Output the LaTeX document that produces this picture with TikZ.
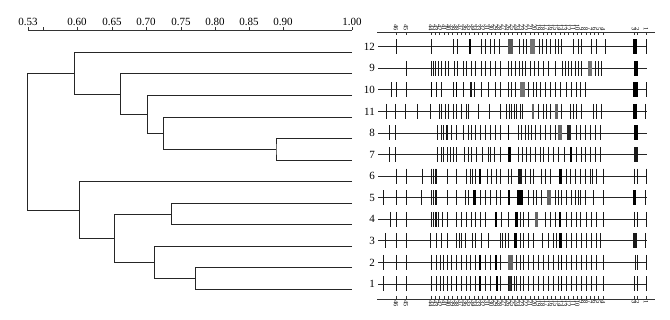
\documentclass[tikz,border=0pt]{standalone}
\usepackage{fontspec}
\setmainfont{Liberation Serif}
\usepackage{tikz}
\usetikzlibrary{positioning}
\newcommand{\gellane}[3]{%
  \draw[laneline] (378,#1) -- (647,#1);
  \foreach \bx in {#2} \draw[band] (\bx,#1-7.5) -- (\bx,#1+7.5);
  \foreach \bx/\bw/\bk in {#3} \draw[band, line width=\bw pt, draw=black!\bk] (\bx,#1-7.5) -- (\bx,#1+7.5);
}

\begin{document}
\begin{tikzpicture}[x=1pt, y=-1pt,
    tree/.style={draw=black!85, line width=0.7pt},
    axisline/.style={draw=black!80, line width=0.6pt},
    tick/.style={draw=black!80, line width=0.5pt},
    laneline/.style={draw=black!85, line width=0.6pt},
    band/.style={draw=black!90, line width=0.6pt},
    scalelab/.style={anchor=base, inner sep=0pt, font=\fontsize{11}{12}\selectfont},
    lanelab/.style={anchor=east, inner sep=0pt, font=\fontsize{11}{12}\selectfont},
    marklab/.style={rotate=-90, inner sep=0pt, font=\fontsize{6.5}{6.5}\selectfont}
]
\useasboundingbox (0,0) rectangle (670,320);

\draw[axisline] (28,30) -- (352,30);
\foreach \v/\sx in {0.53/28, 0.60/77, 0.65/112, 0.70/146, 0.75/181, 0.80/215, 0.85/249, 0.90/283, 1.00/352} {
  \draw[tick] (\sx,30) -- (\sx,27);
  \node[scalelab] at (\sx,25.5) {\v};
}
\draw[tick] (43,30) -- (43,27);

\foreach \lf [count=\i from 0] in {12,9,10,11,8,7,6,5,4,3,2,1} {
  \coordinate (l\lf) at (352, 52.3+21.55*\i);
  \node[lanelab] (t\lf) at (375, 46.7+21.57*\i) {\lf};
}
\coordinate (m87) at (276,149.3);
\coordinate (m11) at (163.3,133.2);
\coordinate (m10) at (147.3,114.3);
\coordinate (m9) at (120.7,94.1);
\coordinate (m12) at (74.7,73.2);
\coordinate (m54) at (171.7,214.0);
\coordinate (m21) at (195.7,278.6);
\coordinate (m3) at (154.3,262.4);
\coordinate (m5) at (114.7,238.2);
\coordinate (m6) at (79.3,209.9);
\coordinate (root) at (27.7,141.6);
\draw[tree] (l8) -| (m87) |- (l7);
\draw[tree] (l11) -| (m11) |- (m87);
\draw[tree] (l10) -| (m10) |- (m11);
\draw[tree] (l9) -| (m9) |- (m10);
\draw[tree] (l12) -| (m12) |- (m9);
\draw[tree] (l5) -| (m54) |- (l4);
\draw[tree] (l2) -| (m21) |- (l1);
\draw[tree] (l3) -| (m3) |- (m21);
\draw[tree] (m54) -| (m5) |- (m3);
\draw[tree] (l6) -| (m6) |- (m5);
\draw[tree] (m12) -| (root) |- (m6);

\draw[axisline] (377,32.3) -- (655,32.3);
\draw[axisline] (377,299) -- (655,299);
\foreach \n [evaluate=\n as \mx using 603-(\n-4)*4.3] in {4,...,44} {
  \draw[tick] (\mx,32.3) -- (\mx,35.5);
  \draw[tick] (\mx,296) -- (\mx,299);
  \node[marklab, anchor=east] at (\mx,31) {\n};
  \node[marklab, anchor=west] at (\mx,300.5) {\n};
}
\foreach \n/\mx in {46/396, 45/406, 3/634, 2/637, 1/646} {
  \draw[tick] (\mx,32.3) -- (\mx,35.5);
  \draw[tick] (\mx,296) -- (\mx,299);
  \node[marklab, anchor=east] at (\mx,31) {\n};
  \node[marklab, anchor=west] at (\mx,300.5) {\n};
}

\gellane{46.7}{396, 431.7, 453.3, 457.3, 481.7, 485.7, 490, 494.3, 499.3, 519.3, 523.3, 526.7, 539, 542.7, 546.7, 550.7, 555, 558.3, 561.7, 573.3, 578.3, 581.7, 591.7, 596.7, 605, 646.7}{470/1.3/100, 510.3/4.5/65, 532.5/5/55, 635/4/100}
\gellane{68.3}{406, 431.7, 433.3, 435, 438.3, 441, 445, 448.3, 454.3, 457.7, 463.3, 466.7, 471, 475, 481.7, 485.7, 490, 495, 500, 508.3, 511.7, 515, 519.3, 522.7, 525, 530.7, 534, 538.3, 543.3, 548.3, 555, 562.7, 565, 568.3, 571.7, 575, 578.3, 581.7, 595, 598.3, 601.7}{590/3.5/55, 636/3.5/100}
\gellane{89.8}{391.7, 396, 406, 436.7, 441, 453.3, 463.3, 470, 471.7, 474.3, 481.7, 488.3, 495, 500, 508.3, 511.7, 515, 528.3, 533.3, 536.7, 540, 545, 550, 555, 560, 566.7, 571.7, 576.7, 580, 585, 646}{431.7/1.3/100, 456.7/1.3/100, 522.5/5/55, 635.5/5/100}
\gellane{111.4}{386.7, 395, 405, 417.3, 430.7, 439, 441.7, 445, 448.3, 453.3, 456.7, 461.7, 466, 468.3, 478.3, 489.3, 500, 506.7, 509, 511.7, 514, 516.7, 520, 522.7, 538.3, 543.3, 546.7, 550, 561.7, 570.7, 573.3, 576.7, 581.7, 593.3, 596.7, 601.7, 645}{533/2.5/60, 556.7/3.5/60, 635/4.5/100}
\gellane{133.0}{389.3, 395, 437.3, 441, 443.3, 446, 447.3, 451.7, 456.7, 463.3, 468.3, 471.7, 475, 480.7, 485, 490, 495, 500, 518.3, 521.7, 525, 528.3, 531.7, 535, 540, 545, 550, 555, 576.7, 580.7, 585, 590, 595, 600}{508.3/1.3/100, 560/3.5/60, 568.7/4/85, 636/4/100}
\gellane{154.6}{389.3, 395, 437.3, 441, 443.3, 447.3, 450, 453.3, 456.7, 464, 468.3, 471.7, 476.7, 482.7, 488.3, 490, 494, 500, 518.3, 522.3, 526, 530, 535, 540, 543.3, 548.3, 553.3, 558.3, 564, 576.7, 581.7, 585, 590, 595, 600}{509.5/2.5/100, 570.8/2/100, 636/4/90}
\gellane{176.1}{396, 406, 422.7, 431.7, 433.3, 435, 436.7, 447.3, 456.7, 466.7, 470, 472.3, 475, 487.3, 491.7, 496, 500, 508.3, 511.7, 525, 530, 533.3, 541.7, 545, 550, 566.7, 570.7, 575, 580, 585, 590, 592.7, 596.7, 603.3, 634, 637.3, 646}{480.2/2/100, 520/3.5/90, 560.5/2.5/100}
\gellane{197.7}{383.3, 396, 406, 421.7, 431.7, 433.3, 435, 436.7, 447.3, 456.7, 465, 468.3, 480, 485, 490, 496.7, 500, 528.3, 533.3, 536.7, 541.7, 555, 558.3, 561.7, 566.7, 571.7, 575, 578.3, 580, 585, 593.3, 603.3, 645}{474.5/2.5/100, 509.2/2/100, 520.3/6/100, 548.7/4/60, 634.7/2.7/100}
\gellane{219.3}{390, 396, 406, 431.7, 433.3, 435, 436.7, 438.3, 442.7, 447.3, 456.7, 461.7, 466.7, 471.7, 475, 480, 485.7, 501.7, 508.3, 520, 523.3, 528.3, 545, 550, 555, 566.7, 571.7, 576.7, 580, 586.7, 591.7, 596.7, 603.3, 634, 637.3, 646}{495.8/1.7/100, 516.7/3.3/100, 536.7/3.3/60, 560/1.5/100}
\gellane{240.8}{385, 396, 406, 430.7, 436.7, 441.7, 447.3, 456.7, 459.3, 461.7, 465, 472.7, 475, 481.7, 488.3, 500, 502.7, 505, 508.3, 520, 523.3, 528.3, 533.3, 542.7, 548.3, 553.3, 556.7, 566.7, 571.7, 576.7, 581.7, 586.7, 591.7, 596.7, 600, 645}{515.3/2.7/100, 560.5/2.5/100, 634.7/4/90}
\gellane{262.4}{383.3, 396, 406, 431.7, 436, 440, 443.3, 447.3, 451.7, 456.7, 461.7, 466, 470, 475, 485, 490, 500, 516.7, 520, 523.3, 528.3, 533.3, 538.3, 543.3, 548.3, 553.3, 558.3, 566.7, 571.7, 576.7, 581.7, 586.7, 591.7, 596.7, 603.3, 635, 637.3, 646}{480/1.5/100, 495.8/1.7/100, 510.8/5/60, 561.7/1.5/100}
\gellane{284.0}{383.3, 396, 406, 431.7, 436, 440, 443.3, 447.3, 451.7, 461.7, 466, 470, 475, 485, 490, 500, 508.3, 511.7, 514, 516.7, 520, 523.3, 528.3, 533.3, 538.3, 543.3, 548.3, 553.3, 558.3, 566.7, 571.7, 576.7, 581.7, 586.7, 591.7, 596.7, 603.3, 634, 637.3, 646}{456.7/1.5/100, 480/1.5/100, 497/1.7/100, 510/2/80, 561.7/1.5/100}
\end{tikzpicture}
\end{document}
